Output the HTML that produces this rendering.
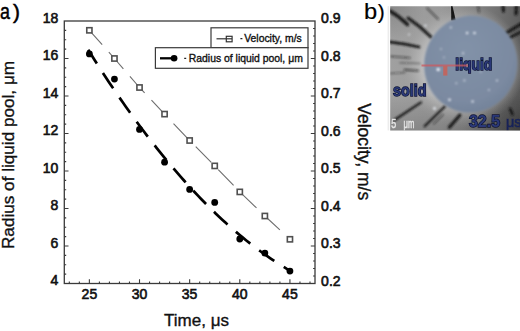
<!DOCTYPE html>
<html><head><meta charset="utf-8"><style>
html,body{margin:0;padding:0;background:#fff;}
body{width:520px;height:331px;overflow:hidden;}
svg{display:block;font-family:"Liberation Sans",sans-serif;}
</style></head><body>
<svg width="520" height="331" viewBox="0 0 520 331">
<defs>
<clipPath id="mc"><rect x="390.2" y="6.2" width="130" height="124.2"/></clipPath>
<filter id="bl" x="-20%" y="-20%" width="140%" height="140%"><feGaussianBlur stdDeviation="1.2"/></filter>
<filter id="bl2" x="-20%" y="-20%" width="140%" height="140%"><feGaussianBlur stdDeviation="0.6"/></filter>
<filter id="bl3" x="-20%" y="-20%" width="140%" height="140%"><feGaussianBlur stdDeviation="3"/></filter>
<filter id="bl4" x="-20%" y="-20%" width="140%" height="140%"><feGaussianBlur stdDeviation="0.4"/></filter>
<linearGradient id="base" gradientUnits="userSpaceOnUse" x1="390" y1="0" x2="520" y2="0"><stop offset="0" stop-color="#a0a0a0"/><stop offset="0.4" stop-color="#9a9a9a"/><stop offset="0.72" stop-color="#7c7c7c"/><stop offset="1" stop-color="#5e5e5e"/></linearGradient>
<radialGradient id="halo" gradientUnits="userSpaceOnUse" cx="463" cy="66" r="62"><stop offset="0.62" stop-color="#c6c6c6" stop-opacity="0.9"/><stop offset="0.8" stop-color="#b4b4b4" stop-opacity="0.5"/><stop offset="1" stop-color="#a0a0a0" stop-opacity="0"/></radialGradient>
<radialGradient id="dkc" gradientUnits="userSpaceOnUse" cx="390" cy="6" r="35"><stop offset="0" stop-color="#000" stop-opacity="0.15"/><stop offset="1" stop-color="#000" stop-opacity="0"/></radialGradient>
<radialGradient id="dkbr" gradientUnits="userSpaceOnUse" cx="520" cy="131" r="55"><stop offset="0" stop-color="#000" stop-opacity="0.25"/><stop offset="1" stop-color="#000" stop-opacity="0"/></radialGradient>
<linearGradient id="dkb" gradientUnits="userSpaceOnUse" x1="0" y1="95" x2="0" y2="131"><stop offset="0" stop-color="#000" stop-opacity="0"/><stop offset="1" stop-color="#000" stop-opacity="0.15"/></linearGradient>
<radialGradient id="cg" cx="0.4" cy="0.38" r="0.7"><stop offset="0" stop-color="#8292a8"/><stop offset="0.75" stop-color="#7b8aa1"/><stop offset="1" stop-color="#718097"/></radialGradient>
<filter id="bl6" x="-100%" y="-100%" width="300%" height="300%"><feGaussianBlur stdDeviation="0.8"/></filter>
<filter id="bl5" x="-20%" y="-20%" width="140%" height="140%"><feGaussianBlur stdDeviation="1.3"/></filter>
</defs>
<g fill="#000" stroke="#000" stroke-width="0.5">
<text transform="translate(0,19) scale(0.83,1)" font-size="21.5">a</text>
<text x="12.9" y="18.7" font-size="20.8">)</text>
</g>
<g fill="#000" stroke="#000" stroke-width="0.2">
<text transform="translate(363.9,19) scale(1.1,1)" font-size="21.5">b</text>
<text x="377.8" y="18.7" font-size="20.8">)</text>
</g>
<!-- plot frame -->
<rect x="64.3" y="21.0" width="250.70" height="262.50" fill="none" stroke="#3a3a3a" stroke-width="1.3"/>
<path d="M69.31,283.50v-1.9M79.34,283.50v-1.9M89.37,283.50v-4.2M99.40,283.50v-1.9M109.43,283.50v-1.9M119.45,283.50v-1.9M129.48,283.50v-1.9M139.51,283.50v-4.2M149.54,283.50v-1.9M159.57,283.50v-1.9M169.59,283.50v-1.9M179.62,283.50v-1.9M189.65,283.50v-4.2M199.68,283.50v-1.9M209.71,283.50v-1.9M219.73,283.50v-1.9M229.76,283.50v-1.9M239.79,283.50v-4.2M249.82,283.50v-1.9M259.85,283.50v-1.9M269.87,283.50v-1.9M279.90,283.50v-1.9M289.93,283.50v-4.2M299.96,283.50v-1.9M309.99,283.50v-1.9M64.30,274.12h1.9M64.30,264.75h1.9M64.30,255.38h1.9M64.30,246.00h4.2M64.30,236.62h1.9M64.30,227.25h1.9M64.30,217.88h1.9M64.30,208.50h4.2M64.30,199.12h1.9M64.30,189.75h1.9M64.30,180.38h1.9M64.30,171.00h4.2M64.30,161.62h1.9M64.30,152.25h1.9M64.30,142.88h1.9M64.30,133.50h4.2M64.30,124.12h1.9M64.30,114.75h1.9M64.30,105.38h1.9M64.30,96.00h4.2M64.30,86.62h1.9M64.30,77.25h1.9M64.30,67.88h1.9M64.30,58.50h4.2M64.30,49.12h1.9M64.30,39.75h1.9M64.30,30.38h1.9M315.00,276.00h-1.9M315.00,268.50h-1.9M315.00,261.00h-1.9M315.00,253.50h-1.9M315.00,246.00h-4.2M315.00,238.50h-1.9M315.00,231.00h-1.9M315.00,223.50h-1.9M315.00,216.00h-1.9M315.00,208.50h-4.2M315.00,201.00h-1.9M315.00,193.50h-1.9M315.00,186.00h-1.9M315.00,178.50h-1.9M315.00,171.00h-4.2M315.00,163.50h-1.9M315.00,156.00h-1.9M315.00,148.50h-1.9M315.00,141.00h-1.9M315.00,133.50h-4.2M315.00,126.00h-1.9M315.00,118.50h-1.9M315.00,111.00h-1.9M315.00,103.50h-1.9M315.00,96.00h-4.2M315.00,88.50h-1.9M315.00,81.00h-1.9M315.00,73.50h-1.9M315.00,66.00h-1.9M315.00,58.50h-4.2M315.00,51.00h-1.9M315.00,43.50h-1.9M315.00,36.00h-1.9M315.00,28.50h-1.9" stroke="#3a3a3a" stroke-width="1.1" fill="none"/>
<g font-size="14" fill="#111" stroke="#111" stroke-width="0.6"><text x="58.3" y="285.4" text-anchor="end">4</text><text x="58.3" y="247.9" text-anchor="end">6</text><text x="58.3" y="210.4" text-anchor="end">8</text><text x="58.3" y="172.9" text-anchor="end">10</text><text x="58.3" y="135.4" text-anchor="end">12</text><text x="58.3" y="97.9" text-anchor="end">14</text><text x="58.3" y="60.4" text-anchor="end">16</text><text x="58.3" y="22.9" text-anchor="end">18</text><text x="321.1" y="285.7">0.2</text><text x="321.1" y="248.2">0.3</text><text x="321.1" y="210.7">0.4</text><text x="321.1" y="173.2">0.5</text><text x="321.1" y="135.7">0.6</text><text x="321.1" y="98.2">0.7</text><text x="321.1" y="60.7">0.8</text><text x="321.1" y="23.2">0.9</text><text x="89.4" y="298.5" text-anchor="middle">25</text><text x="139.5" y="298.5" text-anchor="middle">30</text><text x="189.6" y="298.5" text-anchor="middle">35</text><text x="239.8" y="298.5" text-anchor="middle">40</text><text x="289.9" y="298.5" text-anchor="middle">45</text></g>
<text x="196.5" y="325.7" font-size="17" text-anchor="middle" fill="#111" stroke="#111" stroke-width="0.35">Time, μs</text>
<text transform="translate(13.8,155) rotate(-90)" font-size="17.15" text-anchor="middle" fill="#111" stroke="#111" stroke-width="0.35">Radius of liquid pool, μm</text>
<text transform="translate(358,151.7) rotate(90)" font-size="17.5" text-anchor="middle" fill="#111" stroke="#111" stroke-width="0.35">Velocity, m/s</text>
<!-- data -->
<path d="M89.37,30.30 L114.44,58.50 L139.51,87.50 L164.58,114.10 L189.65,140.50 L214.72,165.90 L239.79,191.90 L264.86,216.00 L289.93,239.30" stroke="#6e6e6e" stroke-width="1.1" fill="none" stroke-dasharray="22.1 10" stroke-dashoffset="2.8"/>
<path d="M88.20,49.84 L91.64,55.33 L95.07,60.77 L98.51,66.14 L101.95,71.46 L105.39,76.71 L108.82,81.91 L112.26,87.04 L115.70,92.12 L119.14,97.13 L122.57,102.09 L126.01,106.98 L129.45,111.82 L132.88,116.59 L136.32,121.30 L139.76,125.96 L143.20,130.55 L146.63,135.09 L150.07,139.56 L153.51,143.97 L156.95,148.33 L160.38,152.62 L163.82,156.86 L167.26,161.03 L170.69,165.14 L174.13,169.20 L177.57,173.19 L181.01,177.12 L184.44,181.00 L187.88,184.81 L191.32,188.56 L194.76,192.26 L198.19,195.89 L201.63,199.46 L205.07,202.98 L208.51,206.43 L211.94,209.82 L215.38,213.16 L218.82,216.43 L222.25,219.64 L225.69,222.80 L229.13,225.89 L232.57,228.92 L236.00,231.89 L239.44,234.81 L242.88,237.66 L246.32,240.45 L249.75,243.18 L253.19,245.86 L256.63,248.47 L260.06,251.02 L263.50,253.51 L266.94,255.94 L270.38,258.32 L273.81,260.63 L277.25,262.88 L280.69,265.07 L284.13,267.20 L287.56,269.28 L291.00,271.29" stroke="#000" stroke-width="2.7" fill="none" stroke-dasharray="18.5 11.2" stroke-dashoffset="2.3"/>
<g fill="#fff" stroke="#505050" stroke-width="1.6"><rect x="86.77" y="27.70" width="5.2" height="5.2"/><rect x="111.84" y="55.90" width="5.2" height="5.2"/><rect x="136.91" y="84.90" width="5.2" height="5.2"/><rect x="161.98" y="111.50" width="5.2" height="5.2"/><rect x="187.05" y="137.90" width="5.2" height="5.2"/><rect x="212.12" y="163.30" width="5.2" height="5.2"/><rect x="237.19" y="189.30" width="5.2" height="5.2"/><rect x="262.26" y="213.40" width="5.2" height="5.2"/><rect x="287.33" y="236.70" width="5.2" height="5.2"/></g>
<g fill="#000"><circle cx="89.37" cy="53.90" r="3.4"/><circle cx="114.44" cy="79.10" r="3.4"/><circle cx="139.51" cy="129.40" r="3.4"/><circle cx="164.58" cy="162.20" r="3.4"/><circle cx="189.65" cy="189.40" r="3.4"/><circle cx="214.72" cy="202.40" r="3.4"/><circle cx="239.79" cy="239.00" r="3.4"/><circle cx="264.86" cy="253.10" r="3.4"/><circle cx="289.93" cy="271.10" r="3.4"/></g>
<!-- legend -->
<rect x="211" y="27.8" width="97" height="19.9" fill="#fff" stroke="#3a3a3a" stroke-width="1.2"/>
<rect x="155.4" y="47.7" width="152.6" height="20.6" fill="#fff" stroke="#3a3a3a" stroke-width="1.2"/>
<path d="M216.5,38.8H232" stroke="#333" stroke-width="1.2"/>
<rect x="226.3" y="36.3" width="5.8" height="5.5" fill="none" stroke="#333" stroke-width="1.2"/>
<path d="M160,58.3H172" stroke="#000" stroke-width="2.3"/>
<circle cx="174.1" cy="58.3" r="3.3" fill="#000"/>
<g font-size="10.4" fill="#111" stroke="#111" stroke-width="0.35">
<text x="244.2" y="42">Velocity, m/s</text>
<text x="188.8" y="61.8">Radius of liquid pool, μm</text>
</g>
<path d="M240.4,38.6h2M184.2,58.4h2" stroke="#222" stroke-width="1.1"/>
<!-- micrograph -->
<rect x="387.6" y="6.2" width="1.6" height="124.2" fill="#ececec"/>
<g clip-path="url(#mc)">
<rect x="389" y="5" width="132" height="127" fill="url(#base)"/>
<rect x="389" y="5" width="132" height="127" fill="url(#halo)"/>
<rect x="389" y="5" width="132" height="127" fill="url(#dkc)"/>
<rect x="389" y="5" width="132" height="127" fill="url(#dkb)"/>
<rect x="389" y="5" width="132" height="127" fill="url(#dkbr)"/>
<g stroke="#181818" stroke-linecap="round" fill="none" filter="url(#bl)" opacity="1">
<path d="M389,10.5 Q399,16 407.5,24.5" stroke-width="3.4"/>
<path d="M408,18 Q420,26 431,37" stroke-width="3"/>
<path d="M427,8 L438,19" stroke-width="2" opacity="0.5"/>
<path d="M389,41.8 L405,44.2 L419,47" stroke-width="2.8"/>
<path d="M391,56.3 L410,57.8" stroke-width="1.8" opacity="0.5"/>
<path d="M400,62.8 L420,63.5" stroke-width="1.5" opacity="0.35"/>
<path d="M404.6,69.8 L418,70.7" stroke-width="2" opacity="0.6"/>
<path d="M390,73.5 L405,72.5" stroke-width="1.5" opacity="0.4"/>
<path d="M393,121 L421,102.4" stroke-width="2.2"/>
<path d="M424.6,126.2 L444.8,106.5" stroke-width="2.2"/>
<path d="M433.8,123.8 L443,114.6" stroke-width="1.6" opacity="0.5"/>
<path d="M449.4,127.3 L459.8,115.2" stroke-width="3.2"/>
<path d="M503,6 L503.5,11" stroke-width="3"/>
<path d="M516.4,6 L516,14" stroke-width="3"/>
<path d="M505.4,33.7 L521,24" stroke-width="3.2"/>
<path d="M508.8,37.9 L521,32" stroke-width="2.8"/>
<path d="M510.2,109 L512.4,114.3" stroke-width="2.6"/>
<path d="M478,6 L479,12" stroke-width="2" opacity="0.5"/>
</g>
<path d="M451,6 L452.5,6 L455.8,20.5 L451.3,20.5 Z" fill="#151515" filter="url(#bl2)"/>
<ellipse cx="470.7" cy="64.1" rx="46.5" ry="48.6" transform="rotate(14.5 470.7 64.1)" fill="url(#cg)" filter="url(#bl5)"/>
<g fill="#eef2fa" filter="url(#bl6)"><circle cx="450.8" cy="27.5" r="1.1" opacity="0.7"/><circle cx="467.1" cy="33" r="1.3" opacity="0.9"/><circle cx="474.5" cy="33" r="1.3" opacity="0.9"/><circle cx="463.1" cy="53.3" r="1.1" opacity="0.7"/><circle cx="444" cy="57.4" r="0.9" opacity="0.5"/><circle cx="438.2" cy="69.5" r="1.7" opacity="1"/><circle cx="480.7" cy="71.8" r="1" opacity="0.5"/><circle cx="464.4" cy="80.5" r="1.1" opacity="0.7"/><circle cx="497" cy="80.5" r="1.1" opacity="0.7"/><circle cx="456.3" cy="83.3" r="1" opacity="0.6"/><circle cx="449.5" cy="99.8" r="1.4" opacity="0.85"/><circle cx="472.6" cy="101.5" r="1.2" opacity="0.8"/><circle cx="488.9" cy="90" r="1" opacity="0.6"/><circle cx="434.5" cy="108.5" r="1.4" opacity="0.9"/><circle cx="425.4" cy="25.6" r="1.2" opacity="0.8"/><circle cx="409" cy="34.5" r="1.1" opacity="0.7"/><circle cx="441" cy="49" r="1" opacity="0.5"/></g>
<g font-weight="bold" fill="#2a3878" stroke="#0c1232" stroke-width="1.3" paint-order="stroke" filter="url(#bl4)">
<text x="455.3" y="69.6" font-size="16" textLength="37" lengthAdjust="spacingAndGlyphs">liquid</text>
<text x="393" y="96" font-size="16" textLength="33.4" lengthAdjust="spacingAndGlyphs">solid</text>
<text x="469" y="126.8" font-size="16.5" textLength="31" lengthAdjust="spacingAndGlyphs">32.5</text>
</g>
<g opacity="0.75" filter="url(#bl2)">
<path d="M421.5,65.4 H468" stroke="#cc5a60" stroke-width="2" fill="none"/>
<rect x="443.2" y="66" width="4.2" height="9.6" fill="#d45a4c"/>
</g>
<text x="506" y="126.8" font-size="14" fill="#1a2458" stroke="#1a2458" stroke-width="0.6" textLength="15.5" lengthAdjust="spacingAndGlyphs" filter="url(#bl4)">μs</text>
<g fill="#e4e4e4" stroke="#e4e4e4" stroke-width="0.5" filter="url(#bl4)">
<text x="391.2" y="128.2" font-size="12.5" textLength="5" lengthAdjust="spacingAndGlyphs">5</text>
<text x="403.6" y="128.2" font-size="12.5" textLength="10.8" lengthAdjust="spacingAndGlyphs">μm</text>
</g>
</g>
</svg>
</body></html>
